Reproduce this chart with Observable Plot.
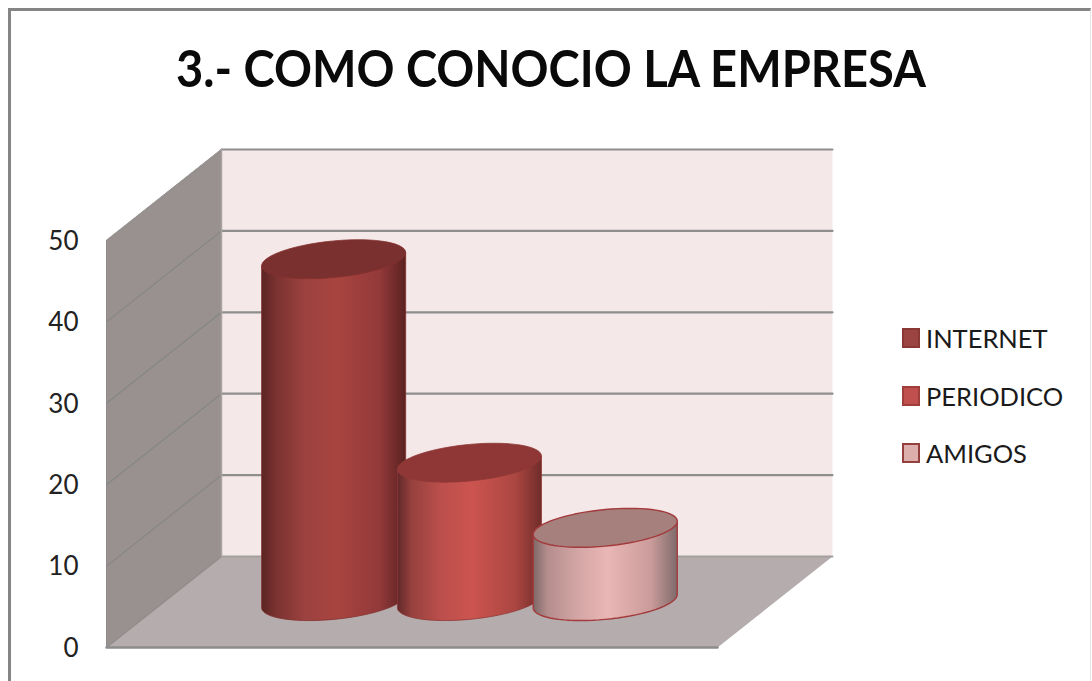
<!DOCTYPE html>
<html lang="es">
<head>
<meta charset="utf-8">
<title>3.- COMO CONOCIO LA EMPRESA</title>
<script src="https://cdn.jsdelivr.net/npm/d3@7"></script>
<script src="https://cdn.jsdelivr.net/npm/@observablehq/plot@0.6"></script>
<style>
  html, body { margin: 0; padding: 0; background: #fff; }
  #chart { position: relative; width: 1092px; height: 681px; overflow: hidden; font-family: Lato, sans-serif; color: #1a1a1a; }
  #chart svg { position: absolute; left: 0; top: 0; }
  #frame { position: absolute; left: 8px; top: 8px; right: 1px; bottom: -10px; border: 3px solid #858585; border-right: 1px solid #e4e4e4; border-bottom: 0; }
  #title { position: absolute; left: 0; top: 32px; width: 1102px; text-align: center; font-size: 52px; font-weight: 700; line-height: 70px; color: #0a0a0a; white-space: nowrap; transform: scaleX(0.905); }
  .entry { position: absolute; left: 902px; height: 20px; }
  .entry i { position: absolute; left: 0; top: 0; width: 14px; height: 16px; border: 2px solid; }
  .entry span { position: absolute; left: 24px; top: -5px; font-size: 25.5px; line-height: 30px; white-space: nowrap; }
</style>
</head>
<body>
<div id="chart">
  <div id="frame"></div>
  <div id="title">3.- COMO CONOCIO LA EMPRESA</div>
</div>
<script>
// Survey answers
const seriesNames = ["INTERNET", "PERIODICO", "AMIGOS"];
const seriesValues = [42, 17, 9];
const tickValues = [0, 10, 20, 30, 40, 50];

// Cylinder paint
const topColors = ["#7a302e", "#8f3736", "#a5807d"];
const edgeColors = ["#84302e", "#8f3836", "#a33a3c"];
const edgeWidths = [0.8, 0.8, 1.4];
const swatchFills = ["#9c4442", "#c0504d", "#dcaeac"];
const swatchEdges = ["#8a3836", "#9f3f3c", "#94403f"];
const shades = [
  ["#5a2422", "#7a3230", "#9c4240", "#a8443f", "#93393a", "#5a2220"],
  ["#62282a", "#96413e", "#bb4f4b", "#cc5450", "#ab4641", "#702c2a"],
  ["#7e6767", "#b58d8d", "#d2a5a4", "#e9b7b5", "#c99b9a", "#7f6a6b"]
];
const shadeStops = [0, 0.1, 0.3, 0.52, 0.82, 1];

// Oblique projection: the box recedes by depthX along x and depthY along the value axis.
const depthX = 115 / 611;
const depthY = 91 / 8.14;
const project = (x, v, d) => ({x: x + d * depthX, y: v + d * depthY});

const xMax = 1, yMax = 50;
const poly = (...corners) => corners.map(([x, v, d]) => project(x, v, d));
const sideWall = poly([0, 0, 0], [0, yMax, 0], [0, yMax, 1], [0, 0, 1]);
const backWall = poly([0, 0, 1], [0, yMax, 1], [xMax, yMax, 1], [xMax, 0, 1]);
const floor = poly([0, 0, 0], [0, 0, 1], [xMax, 0, 1], [xMax, 0, 0]);

// Grid lines wrap from the side wall on to the back wall.
const gridLines = tickValues.slice(1).map((v) => poly([0, v, 0], [0, v, 1], [xMax, v, 1]));

// One cylinder per series, standing at mid depth.
const radiusX = 0.1108, radiusD = 0.214, slot = 1 / 4.5;
const turn = Math.atan2(radiusD * depthX, radiusX);
const rim = (cx, v, t) => project(cx + radiusX * Math.cos(t), v, 0.51 + radiusD * Math.sin(t));
const cylinders = seriesValues.map((value, i) => {
  const cx = 0.498 + (i - 1) * slot;
  const cap = d3.range(73).map((k) => rim(cx, value, (k / 72) * 2 * Math.PI));
  const base = d3.range(37).map((k) => rim(cx, 0, turn - (k / 36) * Math.PI));
  const body = [...base, rim(cx, value, turn - Math.PI), rim(cx, value, turn), base[0]];
  return {i, cap, body};
});

const gradients = () => {
  const defs = d3.create("svg:defs");
  shades.forEach((stops, i) => {
    const g = defs.append("linearGradient").attr("id", `shade${i}`);
    shadeStops.forEach((o, k) => {
      g.append("stop").attr("offset", o).attr("stop-color", stops[k]);
    });
  });
  return defs.node();
};

const xy = {x: "x", y: "y"};
const chart = Plot.plot({
  width: 1092,
  height: 681,
  marginLeft: 106,
  marginRight: 375,
  marginTop: 240,
  marginBottom: 34,
  style: {background: "transparent", overflow: "visible"},
  x: {domain: [0, xMax], axis: null},
  y: {domain: [0, yMax], axis: null},
  marks: [
    gradients,
    Plot.line(backWall, {...xy, fill: "#f4e8e8", stroke: "none"}),
    Plot.line(sideWall, {...xy, fill: "#989190", stroke: "none"}),
    Plot.line(floor, {...xy, fill: "#b5adad", stroke: "none"}),
    ...gridLines.map((g) => Plot.line(g.slice(0, 2), {...xy, stroke: "#858784", strokeWidth: 1.2})),
    ...gridLines.map((g) => Plot.line(g.slice(1), {...xy, stroke: "#8e8e8e", strokeWidth: 2.2})),
    Plot.line(poly([0, yMax, 0], [0, yMax, 1]), {...xy, stroke: "#a09a99", strokeWidth: 1}),
    Plot.line(poly([0, 0, 0], [0, 0, 1]), {...xy, stroke: "#8f8b8a", strokeWidth: 1.2}),
    Plot.line(poly([0, 0, 1], [xMax, 0, 1]), {...xy, stroke: "#a3a09f", strokeWidth: 2}),
    Plot.line(poly([0, 0, 1], [0, yMax, 1]), {...xy, stroke: "#a9a3a2", strokeWidth: 1.5}),
    Plot.line(poly([0, 0, 0], [0, yMax, 0]), {...xy, stroke: "#8f8b8a", strokeWidth: 1}),
    Plot.line(poly([0, 0, 0], [xMax, 0, 0]), {...xy, stroke: "#8c8c8c", strokeWidth: 2.5}),
    ...cylinders.flatMap(({i, cap, body}) => [
      Plot.line(body, {...xy, fill: `url(#shade${i})`, stroke: edgeColors[i], strokeWidth: edgeWidths[i]}),
      Plot.line(cap, {...xy, fill: topColors[i], stroke: edgeColors[i], strokeWidth: edgeWidths[i]})
    ]),
    Plot.axisY(tickValues, {
      anchor: "left",
      label: null,
      tickSize: 0,
      tickPadding: 28,
      fontSize: 26,
      dy: 1,
      fontFamily: "Lato, sans-serif",
      color: "#222"
    })
  ]
});

const root = document.getElementById("chart");
root.insertBefore(chart, document.getElementById("frame"));

// Legend to the right of the plot box.
const legendTops = [328, 386, 443];
seriesNames.forEach((name, i) => {
  const entry = document.createElement("div");
  entry.className = "entry";
  entry.style.top = `${legendTops[i]}px`;
  const swatch = document.createElement("i");
  swatch.style.background = swatchFills[i];
  swatch.style.borderColor = swatchEdges[i];
  const label = document.createElement("span");
  label.textContent = name;
  entry.append(swatch, label);
  root.append(entry);
});
</script>
</body>
</html>
